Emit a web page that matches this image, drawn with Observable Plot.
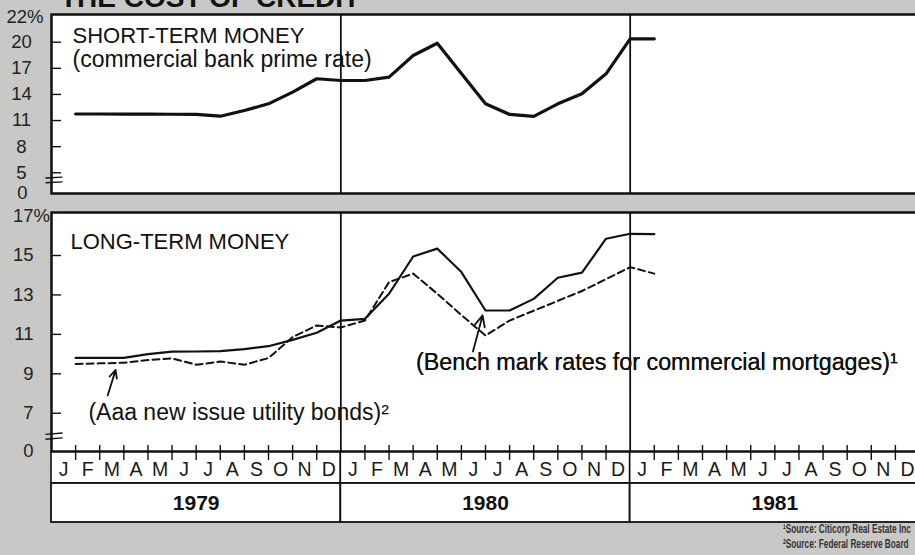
<!DOCTYPE html>
<html>
<head>
<meta charset="utf-8">
<script src="https://cdn.jsdelivr.net/npm/d3@7"></script>
<script src="https://cdn.jsdelivr.net/npm/@observablehq/plot@0.6"></script>
<style>
  html, body { margin: 0; padding: 0; background: #c8c8c6; }
  #chart { position: relative; width: 915px; height: 555px; overflow: hidden; background: #c8c8c6; }
  .layer { position: absolute; left: 0; width: 919px; }
  .layer svg { display: block; max-width: none !important; }
  #title { position: absolute; left: 60px; top: -16px; font: bold 28px/1 "Liberation Sans", Arial, sans-serif; color: #111; white-space: nowrap; }
  #notes { position: absolute; left: 783px; top: 522px; font: bold 12.5px/14.5px "Liberation Sans", Arial, sans-serif; color: #333; white-space: nowrap; transform: scaleX(0.66); transform-origin: 0 0; }
</style>
</head>
<body>
<div id="chart">
  <div id="title">THE COST OF CREDIT</div>
  <div class="layer" id="rowMonths" style="top:450px"></div>
  <div class="layer" id="rowYears" style="top:482px"></div>
  <div class="layer" id="panelTop" style="top:0px"></div>
  <div class="layer" id="panelBottom" style="top:200px"></div>
  <div id="notes">¹Source: Citicorp Real Estate Inc<br>²Source: Federal Reserve Board</div>
</div>
<script>
// ---------- data (month-end observations, Jan 1979 .. Jan 1981) ----------
const obsMonths = ["1979-01","1979-02","1979-03","1979-04","1979-05","1979-06","1979-07","1979-08","1979-09","1979-10","1979-11","1979-12",
                   "1980-01","1980-02","1980-03","1980-04","1980-05","1980-06","1980-07","1980-08","1980-09","1980-10","1980-11","1980-12",
                   "1981-01"];
const primeRate    = [11.75, 11.75, 11.74, 11.73, 11.72, 11.7, 11.5, 12.16, 12.92, 14.26, 15.8, 15.6,
                      15.6, 15.98, 18.47, 19.88, 16.4, 12.92, 11.7, 11.47, 12.92, 14.07, 16.37, 20.39, 20.39];
const mortgageRate = [9.81, 9.81, 9.81, 10.0, 10.12, 10.13, 10.15, 10.25, 10.4, 10.72, 11.08, 11.7,
                      11.79, 13.06, 14.95, 15.35, 14.16, 12.21, 12.21, 12.8, 13.87, 14.13, 15.85, 16.1, 16.08];
const aaaUtility   = [9.5, 9.53, 9.56, 9.7, 9.78, 9.46, 9.62, 9.46, 9.8, 10.86, 11.45, 11.35,
                      11.7, 13.65, 14.08, 13.06, 11.98, 10.94, 11.7, 12.2, 12.7, 13.2, 13.8, 14.41, 14.08];

const monthLetters = ["J","F","M","A","M","J","J","A","S","O","N","D"];
const years = ["1979","1980","1981"];

const topTicks = [5, 8, 11, 14, 17, 20];
const topCapLabel = "22%";
const breakLabel = "0";
const bottomTicks = [7, 9, 11, 13, 15, 17];
const bottomCapSuffix = "%";

// annotation anchors (month index, percent)
const aaaLabel = [{x: 1.53, y: 7.03, text: "(Aaa new issue utility bonds)²"}];
const benchLabel = [{x: 15.12, y: 9.57, text: "(Bench mark rates for commercial mortgages)¹"}];
const arrows = [
  {x1: 2.33, y1: 7.9, x2: 2.66, y2: 9.2},
  {x1: 17.48, y1: 10.13, x2: 17.88, y2: 11.96}
];
const topBreak = [{x1: -0.25, y1: 4.4, x2: 0.46, y2: 4.5}, {x1: -0.25, y1: 3.85, x2: 0.46, y2: 3.95}];
const bottomBreak = [{x1: -0.25, y1: 5.93, x2: 0.46, y2: 6.0}, {x1: -0.25, y1: 5.68, x2: 0.46, y2: 5.75}];

// ---------- derived tables ----------
const nMonths = years.length * 12;
const rows = (vals) => vals.map((v, i) => ({month: obsMonths[i], x: i + 1, v}));
const prime = rows(primeRate), mortgage = rows(mortgageRate), aaa = rows(aaaUtility);
const yearSpans = years.map((y, i) => ({year: y, start: i * 12, end: i * 12 + 12, mid: i * 12 + 6}));
const monthCells = years.flatMap((y, i) => monthLetters.map((m, j) => ({label: m, mid: i * 12 + j + 0.5})));
const dividers = yearSpans.slice(1).map(d => d.start);
const boundaries = d3.range(1, nMonths).filter(b => b % 12 !== 0);

const FONT = '"Liberation Sans", Arial, sans-serif';
const INK = "#111";
const LBL = "#222";
const W = 919, ML = 51;
const base = {width: W, marginLeft: ML, marginRight: 0};
const styleOf = {background: "transparent", fontFamily: FONT, color: INK, overflow: "visible", maxWidth: "none"};
const xScale = {domain: [0, nMonths], axis: null, label: null};

// ---------- top panel: short-term money ----------
const topPlot = Plot.plot({
  ...base, height: 195, marginTop: 14, marginBottom: 2,
  x: xScale,
  y: {domain: [2.62, 23.18], axis: null, label: null},
  style: styleOf,
  marks: [
    Plot.frame({fill: "white", stroke: INK, strokeWidth: 2.5}),
    Plot.ruleX(dividers, {stroke: INK, strokeWidth: 1.8}),
    Plot.axisY({ticks: topTicks, tickSize: 10, dx: 10, tickFormat: () => "", stroke: INK, strokeWidth: 1.4, label: null}),
    Plot.text(topTicks, {y: d => d, text: d => String(d), frameAnchor: "left", dx: -30, textAnchor: "middle", fontSize: 18.5, fill: LBL}),
    Plot.text([topCapLabel], {frameAnchor: "top-left", dx: -45, dy: 3, textAnchor: "start", lineAnchor: "middle", fontSize: 18.5, fill: LBL}),
    Plot.text([breakLabel], {frameAnchor: "bottom-left", dx: -29, textAnchor: "middle", lineAnchor: "middle", fontSize: 18.5, fill: LBL}),
    Plot.link(topBreak, {x1: "x1", y1: "y1", x2: "x2", y2: "y2", stroke: INK, strokeWidth: 1.4}),
    Plot.text(["SHORT-TERM MONEY"], {frameAnchor: "top-left", dx: 21, dy: 13, lineAnchor: "top", textAnchor: "start", fontSize: 22, fill: INK}),
    Plot.text(["(commercial bank prime rate)"], {frameAnchor: "top-left", dx: 21, dy: 36, lineAnchor: "top", textAnchor: "start", fontSize: 23, fill: INK}),
    Plot.line(prime, {x: "x", y: "v", stroke: INK, strokeWidth: 3.2})
  ]
});
document.getElementById("panelTop").append(topPlot);

// ---------- bottom panel: long-term money ----------
const bottomPlot = Plot.plot({
  ...base, height: 261, marginTop: 12, marginBottom: 10,
  x: xScale,
  y: {domain: [5.06, 17.18], axis: null, label: null},
  style: styleOf,
  marks: [
    Plot.frame({fill: "white", stroke: INK, strokeWidth: 2.5}),
    Plot.axisY({ticks: bottomTicks.slice(0, -1), tickSize: 10, dx: 10, tickFormat: () => "", stroke: INK, strokeWidth: 1.4, label: null}),
    Plot.text(bottomTicks, {y: d => d, text: d => String(d), frameAnchor: "left", dx: -18, textAnchor: "end", fontSize: 18.5, fill: LBL}),
    Plot.text([bottomTicks[bottomTicks.length - 1]], {y: d => d, text: () => bottomCapSuffix, frameAnchor: "left", dx: -18, textAnchor: "start", fontSize: 18.5, fill: LBL}),
    Plot.text([breakLabel], {frameAnchor: "bottom-left", dx: -18, textAnchor: "end", lineAnchor: "middle", fontSize: 18.5, fill: LBL}),
    Plot.link(bottomBreak, {x1: "x1", y1: "y1", x2: "x2", y2: "y2", stroke: INK, strokeWidth: 1.4}),
    Plot.axisX({ticks: boundaries, tickSize: 15, dy: -6, tickFormat: () => "", stroke: INK, strokeWidth: 1.4, label: null}),
    Plot.text(["LONG-TERM MONEY"], {frameAnchor: "top-left", dx: 19, dy: 21, lineAnchor: "top", textAnchor: "start", fontSize: 22, fill: INK}),
    Plot.text(benchLabel, {x: "x", y: "y", text: "text", textAnchor: "start", lineAnchor: "middle", fontSize: 23.3, fill: INK, stroke: "white", strokeWidth: 8}),
    Plot.ruleX(dividers, {stroke: INK, strokeWidth: 1.8}),
    Plot.text(benchLabel, {x: "x", y: "y", text: "text", textAnchor: "start", lineAnchor: "middle", fontSize: 23.3, fill: INK}),
    Plot.text(aaaLabel, {x: "x", y: "y", text: "text", textAnchor: "start", lineAnchor: "middle", fontSize: 23, fill: INK}),
    Plot.arrow(arrows, {x1: "x1", y1: "y1", x2: "x2", y2: "y2", stroke: INK, strokeWidth: 1.8, headLength: 10, headAngle: 50}),
    Plot.line(aaa, {x: "x", y: "v", stroke: INK, strokeWidth: 2, strokeDasharray: "7,4"}),
    Plot.line(mortgage, {x: "x", y: "v", stroke: INK, strokeWidth: 2.2})
  ]
});
document.getElementById("panelBottom").append(bottomPlot);

// ---------- month row ----------
const monthPlot = Plot.plot({
  ...base, height: 34, marginTop: 1, marginBottom: 1,
  x: xScale,
  style: styleOf,
  marks: [
    Plot.barX(yearSpans, {x1: "start", x2: "end", fill: "white", stroke: INK, strokeWidth: 1.6}),
    Plot.text(monthCells, {x: "mid", text: "label", fontSize: 19.5, dy: 2, fill: "#1a1a1a"})
  ]
});
document.getElementById("rowMonths").append(monthPlot);

// ---------- year row ----------
const yearPlot = Plot.plot({
  ...base, height: 41, marginTop: 1, marginBottom: 1,
  x: xScale,
  style: styleOf,
  marks: [
    Plot.barX(yearSpans, {x1: "start", x2: "end", fill: "white", stroke: INK, strokeWidth: 1.8}),
    Plot.text(yearSpans, {x: "mid", text: "year", fontSize: 21, fontWeight: "bold", fill: INK})
  ]
});
document.getElementById("rowYears").append(yearPlot);
</script>
</body>
</html>
